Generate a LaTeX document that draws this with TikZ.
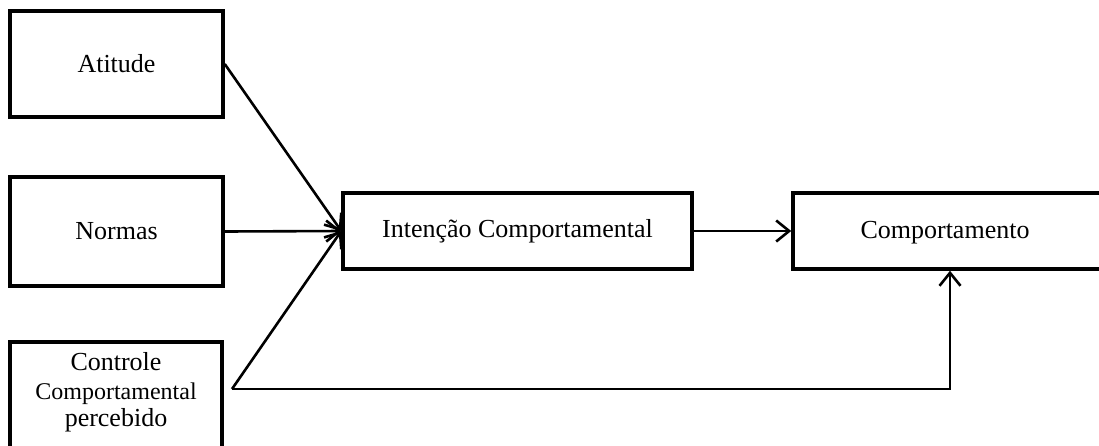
\documentclass[tikz,border=0pt]{standalone}
\usepackage{fontspec}
\setmainfont{Liberation Serif}
\usetikzlibrary{arrows.meta}
\begin{document}
\begin{tikzpicture}[x=1pt,y=-1pt,
  box/.style={draw, line width=3.5pt, rectangle, inner sep=0pt, align=center,
    font=\fontsize{26}{30}\selectfont},
  conn/.style={line width=2.6pt, -{Straight Barb[length=13pt,width=21pt,line width=2.6pt]}}]
\useasboundingbox (0,0) rectangle (1099,445);
\clip (0,0) rectangle (1099,445);
\node[box, minimum width=213pt, minimum height=106pt] (at) at (116.5,64) {Atitude};
\node[box, minimum width=213pt, minimum height=109pt] (no) at (116.5,231.5) {Normas};
\node[box, minimum width=212pt, minimum height=120pt] (co) at (116,402) {};
\node[font=\fontsize{26}{30}\selectfont, align=center, inner sep=0pt] (cot) at (116,392)
  {Controle\\[-1pt]{\fontsize{24}{30}\selectfont Comportamental}\\[-3pt]percebido};
\node[box, minimum width=349pt, minimum height=76pt] (ic) at (517.5,231) {Intenção Comportamental};
\node[box, minimum width=314pt, minimum height=76pt] (cm) at (950,231) {};
\node[font=\fontsize{26}{30}\selectfont, inner sep=0pt] (cmt) at (945,233) {Comportamento};
\coordinate (c) at (232,389);
\draw[conn] (at.east) -- (ic.west);
\draw[conn] (no.east) -- (ic.west);
\draw[conn] (c) -- (ic.west);
\draw[conn] (c) -| (cm.south);
\draw[conn] (ic.east) -- (cm.west);
\end{tikzpicture}
\end{document}
